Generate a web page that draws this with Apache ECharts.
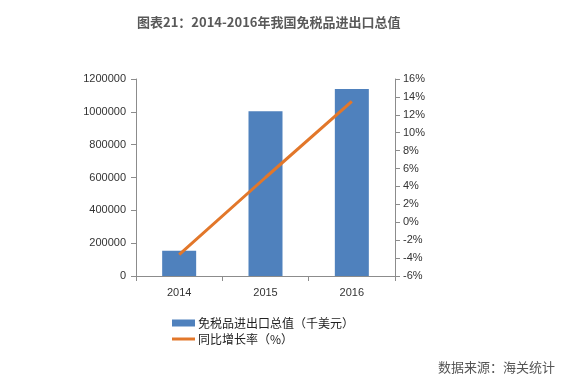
<!DOCTYPE html>
<html>
<head>
<meta charset="utf-8">
<script src="https://cdn.jsdelivr.net/npm/echarts@6/dist/echarts.min.js"></script>
<style>
html,body{margin:0;padding:0;background:#fff;}
#c{width:573px;height:383px;}
</style>
</head>
<body>
<div id="c"></div>
<script>
const categories = ['2014', '2015', '2016'];
const totalValues = [154000, 1003000, 1139000];
const growthRates = [-3.6, 5.0, 13.5];
const leftTicks = [0, 1200000, 200000];
const rightTicks = [-6, 16, 2];
const barName = '免税品进出口总值（千美元）';
const lineName = '同比增长率（%）';
const titleText = '图表21：2014-2016年我国免税品进出口总值';
const sourceText = '数据来源：海关统计';

const font = '"Noto Sans CJK SC", sans-serif';
const numFont = '"Liberation Sans", "Noto Sans CJK SC", sans-serif';
const chart = echarts.init(document.getElementById('c'), null, {renderer: 'canvas'});
chart.setOption({
  animation: false,
  backgroundColor: '#fff',
  textStyle: {fontFamily: font},
  title: [{
    text: titleText,
    left: 132,
    top: 11,
    textStyle: {fontSize: 13, fontWeight: 'bold', color: '#595959', fontFamily: font}
  }, {
    text: sourceText,
    right: 13,
    top: 356,
    textStyle: {fontSize: 13, fontWeight: 'normal', color: '#555', fontFamily: font}
  }],
  legend: [{
    orient: 'vertical',
    left: 172,
    top: 317,
    padding: 0,
    itemWidth: 23,
    itemHeight: 7,
    textStyle: {fontSize: 12, color: '#222', fontFamily: font, padding: [0, 0, 0, -2]},
    data: [{name: barName, icon: 'rect'}]
  }, {
    orient: 'vertical',
    left: 172,
    top: 333,
    padding: 0,
    itemWidth: 23,
    itemHeight: 3,
    textStyle: {fontSize: 12, color: '#222', fontFamily: font, padding: [0, 0, 0, -2]},
    data: [{name: lineName, icon: 'rect'}]
  }],
  grid: {left: 136, right: 178, top: 79, bottom: 107, containLabel: false},
  xAxis: {
    type: 'category',
    data: categories,
    axisLine: {lineStyle: {color: '#8c8c8c'}},
    axisTick: {show: true, length: 5, lineStyle: {color: '#8c8c8c'}},
    axisLabel: {fontSize: 11, color: '#333', margin: 11, fontFamily: numFont}
  },
  yAxis: [{
    type: 'value',
    min: leftTicks[0], max: leftTicks[1], interval: leftTicks[2],
    axisLine: {show: true, lineStyle: {color: '#8c8c8c'}},
    axisTick: {show: true, length: 5, lineStyle: {color: '#8c8c8c'}},
    splitLine: {show: false},
    axisLabel: {fontSize: 11, color: '#333', margin: 10, fontFamily: numFont, formatter: v => String(v)}
  }, {
    type: 'value',
    position: 'right',
    min: rightTicks[0], max: rightTicks[1], interval: rightTicks[2],
    axisLine: {show: true, lineStyle: {color: '#8c8c8c'}},
    axisTick: {show: true, length: 5, lineStyle: {color: '#8c8c8c'}},
    splitLine: {show: false},
    axisLabel: {fontSize: 11, color: '#333', margin: 8, formatter: '{value}%', fontFamily: numFont}
  }],
  series: [{
    name: barName,
    type: 'bar',
    data: totalValues,
    barWidth: 34,
    itemStyle: {color: '#4F81BD'}
  }, {
    name: lineName,
    type: 'line',
    yAxisIndex: 1,
    data: growthRates,
    symbol: 'none',
    lineStyle: {color: '#E2772A', width: 3},
    itemStyle: {color: '#E2772A'}
  }]
});
</script>
</body>
</html>
